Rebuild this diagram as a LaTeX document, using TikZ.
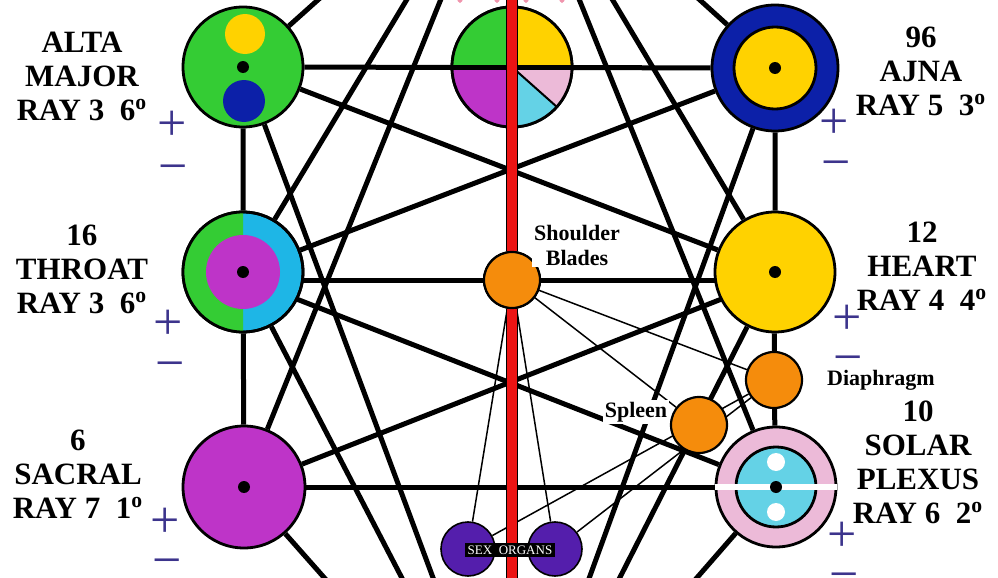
\documentclass[tikz,border=0pt]{standalone}
\usepackage{fontspec}
\setmainfont{Liberation Serif}
\definecolor{greenc}{RGB}{52,204,52}
\definecolor{yellowc}{RGB}{255,210,0}
\definecolor{navyc}{RGB}{12,32,168}
\definecolor{magentac}{RGB}{190,52,200}
\definecolor{bluec}{RGB}{30,182,230}
\definecolor{cyanc}{RGB}{100,210,230}
\definecolor{pinkc}{RGB}{236,186,216}
\definecolor{orangec}{RGB}{245,140,12}
\definecolor{purplec}{RGB}{84,30,172}
\definecolor{redc}{RGB}{236,20,20}
\definecolor{signc}{RGB}{60,52,140}
\pgfdeclarelayer{bg}
\pgfsetlayers{bg,main}

\begin{document}
\begin{tikzpicture}[
        x=0.5pt, y=-0.5pt,
        chakra/.style={circle, draw, line width=1.4pt, minimum size=60pt, inner sep=0pt},
        minor/.style={circle, draw, line width=1.1pt, minimum size=28pt, inner sep=0pt, fill=orangec},
        organ/.style={circle, draw, line width=0.8pt, minimum size=27pt, inner sep=0pt, fill=purplec},
        link/.style={line width=2.5pt},
        fine/.style={line width=0.75pt},
        rim/.style={line width=1.4pt},
        spine/.style={line width=0.5pt, double=redc, double distance=5pt},
        lbl/.style={font=\fontsize{15.5}{17}\selectfont\bfseries, align=center},
        tag/.style={font=\fontsize{11}{12.5}\selectfont\bfseries, align=center, fill=white, inner sep=1pt},
        sign/.style={text=signc, font=\fontsize{26}{26}\selectfont, inner sep=0pt}]

    \clip (0,0) rectangle (998,578);

    \coordinate (crown)  at (510,-172);
    \coordinate (base)   at (512,790);
    \coordinate (top)    at (512,0);
    \coordinate (bottom) at (512,578);

    \node[chakra, fill=greenc]                    (am)   at (243,67)  {};
    \node[chakra, fill=white]                     (head) at (512,67)  {};
    \node[chakra, minimum size=63pt, fill=navyc]  (aj)   at (775,68)  {};
    \node[chakra, fill=bluec]                     (th)   at (243,272) {};
    \node[chakra, fill=yellowc]                   (he)   at (775,272) {};
    \node[chakra, minimum size=61pt, fill=magentac] (sa) at (244,487) {};
    \node[chakra, fill=pinkc]                     (sp)   at (776,487) {};
    \node[minor] (dia) at (774,380) {};
    \node[minor] (spl) at (699,425) {};
    \node[organ] (sol) at (468,549) {};
    \node[organ] (sor) at (555,549) {};

    % --- lines behind the centres
    \begin{pgfonlayer}{bg}
    \draw[link] (am) -- (aj);
    \draw[link] (th |- 0,280) -- (he |- 0,280);
    \draw[link] (sa) -- (sp);
    \draw[link] (am) -- (th) -- (sa);
    \draw[link] (aj) -- (he) -- (dia) -- (sp);
    \draw[link] (am) -- (he);
    \draw[link] (aj) -- (th);
    \draw[link] ([yshift=-3pt]th.center) -- (sp);
    \draw[link] ([yshift=-3pt]he.center) -- (sa);
    \foreach \c in {am,th,sa,aj,he,sp} {
        \draw[link] (crown) -- (\c);
        \draw[link] (base) -- (\c);
    }
    \draw[fine] (512,280) -- (sol);
    \draw[fine] (512,280) -- (sor);
    \draw[fine] (512,280) -- (dia);
    \draw[fine] (512,280) -- (spl);
    \draw[fine] (sol) -- (dia);
    \draw[fine] (sor) -- (dia);
    \end{pgfonlayer}

    % crown petals cut by the top edge
    \foreach \x in {460,497,526,562}
        \fill[pinkc!80!red] (\x,-3) ellipse (3 and 6);

    % alta major
    \fill[yellowc] (am) ++(2,-33) circle (20);
    \fill[navyc] (am) ++(1,34) circle (21);
    \fill (am) circle (6);
    % head
    \begin{scope}
        \clip (head) circle (60);
        \fill[greenc] (head.center) rectangle +(-60,-60);
        \fill[yellowc] (head.center) rectangle +(60,-60);
        \fill[magentac] (head.center) rectangle +(-60,60);
        \fill[pinkc] (head.center) rectangle +(60,60);
        \fill[cyanc] (head.center) -- +(0,100) -- +(111,100) -- cycle;
    \end{scope}
    \draw[line width=1pt] (head.center) -- +(45,40);
    \draw[link] (head.west) -- (head.east);
    \draw[rim] (head) circle (60);
    % ajna
    \draw[rim, fill=yellowc] (aj) circle (41);
    \fill (aj) circle (6);
    % throat
    \fill[greenc] (th.center) ++(0,60) arc[start angle=90, end angle=270, radius=60] -- cycle;
    \fill[magentac] (th) circle (37);
    \draw[rim] (th) circle (60);
    \fill (th) circle (6);
    % heart, sacral
    \fill (he) circle (6);
    \fill (sa) circle (6);
    % solar plexus
    \draw[rim, fill=cyanc] (sp) circle (40);
    \fill[white] ([yshift=1.5pt]sp.west) rectangle ([yshift=-1.5pt]sp.east);
    \fill[white] (sp) ++(0,-25) circle (9);
    \fill[white] (sp) ++(0,25) circle (9);
    \fill (sp) circle (6);

    % --- spine
    \node[minor] (sb) at (512,280) {};
    \draw[spine] (top) -- (sb);
    \draw[spine] (sb) -- (bottom);
    \node[minor] at (sb) {};

    \node[fill=black, text=white, font=\fontsize{6.5}{7}\selectfont, inner sep=1.5pt] (sex) at (510,550) {SEX\ \ ORGANS};

    % --- labels
    \node[lbl] (amt) at (82,76)  {ALTA\\MAJOR\\RAY 3\ \ 6\textsuperscript{o}};
    \node[lbl] (ajt) at (921,71) {96\\AJNA\\RAY 5\ \ 3\textsuperscript{o}};
    \node[lbl] (tht) at (82,269) {16\\THROAT\\RAY 3\ \ 6\textsuperscript{o}};
    \node[lbl] (het) at (922,266) {12\\HEART\\RAY 4\ \ 4\textsuperscript{o}};
    \node[lbl] (sat) at (78,474) {6\\SACRAL\\RAY 7\ \ 1\textsuperscript{o}};
    \node[lbl] (spt) at (918,462) {10\\SOLAR\\PLEXUS\\RAY 6\ \ 2\textsuperscript{o}};
    \node[tag] (sbt) at (577,245) {Shoulder\\Blades};
    \node[tag] (diat) at (881,380) {Diaphragm};
    \node[tag] (splt) at (636,412) {Spleen};

    % --- plus and minus
    \foreach \x/\y/\n in {172/126/a, 834/124/b, 168/325/c, 847/320/d, 165/523/e, 842/537/f}
        \node[sign] (p\n) at (\x,\y) {+};
    \foreach \x/\y/\n in {173/174/a, 836/170/b, 170/371/c, 848/365/d, 167/568/e, 844/582/f}
        \node[sign] (m\n) at (\x,\y) {−};

\end{tikzpicture}
\end{document}
